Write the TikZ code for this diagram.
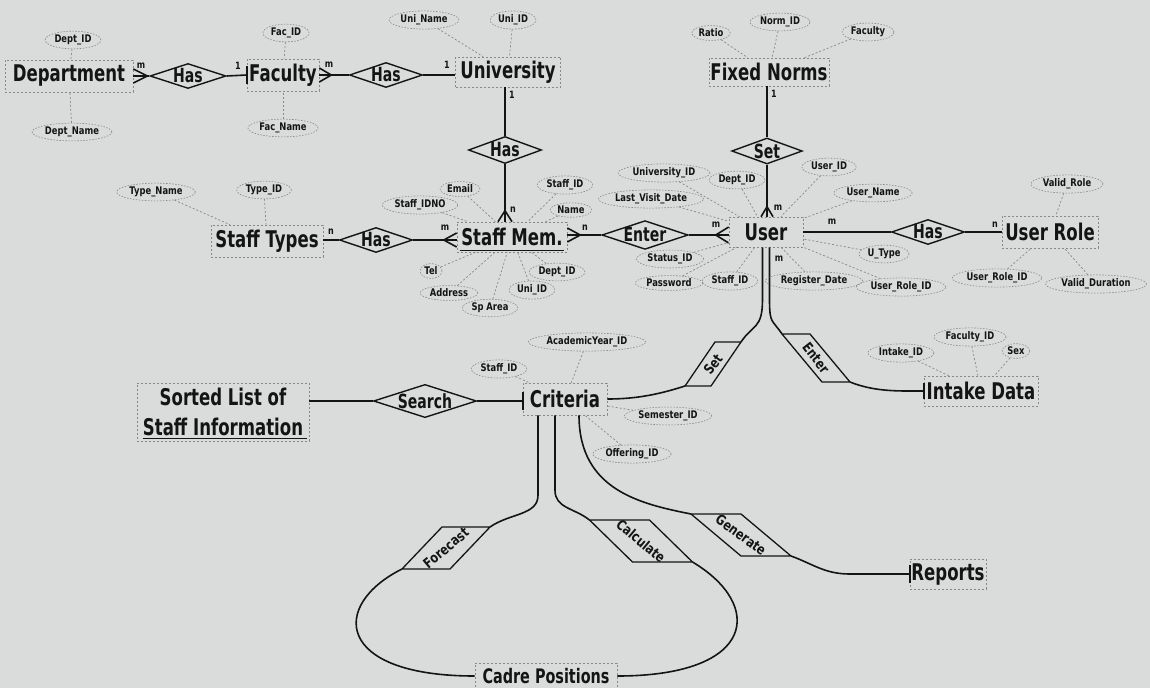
\documentclass[tikz,border=0pt]{standalone}
\usepackage{fontspec}
\usetikzlibrary{shapes.geometric,calc}
\newfontfamily\condf[FakeStretch=0.8]{DejaVu Sans}
\newfontfamily\condent[FakeStretch=0.72]{DejaVu Sans}
\newcommand\myent{\condent\bfseries\fontsize{23}{25}\selectfont}
\newcommand\mycadre{\condent\bfseries\fontsize{20}{22}\selectfont}
\newcommand\myrel{\condent\bfseries\fontsize{19.5}{21}\selectfont}
\newcommand\myslant{\condf\bfseries\fontsize{14}{16}\selectfont}
\newcommand\myatt{\condf\bfseries\fontsize{10.5}{12}\selectfont}
\newcommand\mycard{\condf\bfseries\fontsize{10}{12}\selectfont}
\definecolor{bgc}{RGB}{218,220,220}
\definecolor{ink}{RGB}{20,20,20}
\definecolor{faint}{RGB}{135,137,137}
% slanted relationship box: name, cx, cy, half width, half height, shift of top edge
\newcommand\slantbox[6]{%
  \coordinate (#1-tl) at ({#2-#4+#6/2},{#3-#5});
  \coordinate (#1-tr) at ({#2+#4+#6/2},{#3-#5});
  \coordinate (#1-br) at ({#2+#4-#6/2},{#3+#5});
  \coordinate (#1-bl) at ({#2-#4-#6/2},{#3+#5});
  \draw[relline] (#1-tl) -- (#1-tr) -- (#1-br) -- (#1-bl) -- cycle;}
\tikzset{
  ent/.style={draw=faint, dash pattern=on 2pt off 2pt, line width=.6pt, font=\myent,
    text=ink, inner sep=0pt, align=center},
  rel/.style={diamond, draw=ink, line width=1.4pt, aspect=3, inner sep=0pt, font=\myrel, text=ink},
  slant/.style={font=\myslant, text=ink, inner sep=0pt},
  relline/.style={draw=ink, line width=1.3pt, line join=round},
  attr/.style={ellipse, draw=faint, dash pattern=on 1.5pt off 1.5pt, line width=.6pt,
    font=\myatt, text=ink, inner sep=1.2pt},
  aline/.style={draw=faint, dash pattern=on 2pt off 2pt, line width=.7pt},
  conn/.style={draw=ink, line width=1.6pt},
  card/.style={font=\mycard, text=ink, inner sep=0pt},
}
\begin{document}
\begin{tikzpicture}[x=1pt,y=-1pt]
\fill[bgc] (0,0) rectangle (1150,688);
\useasboundingbox (0,0) rectangle (1150,688);

% ---------- entities ----------
\node[ent, minimum width=128, minimum height=32] (dept) at (69,76) {Department};
\node[ent, minimum width=72, minimum height=32] (fac) at (283,75) {Faculty};
\node[ent, minimum width=105, minimum height=30] (uni) at (508,72) {University};
\node[ent, minimum width=120, minimum height=28] (fixed) at (769,72) {Fixed Norms};
\node[ent, minimum width=112, minimum height=32] (stype) at (267,241) {Staff Types};
\node[ent, minimum width=110, minimum height=30] (staff) at (512,237) {Staff Mem.};
\node[ent, minimum width=74, minimum height=30] (user) at (766,232) {User};
\node[ent, minimum width=96, minimum height=32] (urole) at (1050,232) {User Role};
\node[ent, minimum width=172, minimum height=58] (sorted) at (223,412) {Sorted List of\\[5pt]Staff Information};
\node[ent, minimum width=84, minimum height=32] (crit) at (565,399) {Criteria};
\node[ent, minimum width=114, minimum height=30] (intake) at (981,391) {Intake Data};
\node[ent, minimum width=76, minimum height=30] (reports) at (948,574) {Reports};
\node[ent, font=\mycadre, minimum width=142, minimum height=26] (cadre) at (546,676) {Cadre Positions};

% underlines
\draw[conn, line width=1.3pt] ($(staff.south west)+(3,-2)$) -- ($(staff.south east)+(-3,-2)$);
\draw[conn, line width=1.3pt] ($(sorted.south west)+(6,-3)$) -- ($(sorted.south east)+(-2,-3)$);

% ---------- relationships ----------
\node[rel, minimum width=76, minimum height=25] (has1) at (188,76) {Has};
\node[rel, minimum width=68, minimum height=25] (has2) at (386,75) {Has};
\node[rel, minimum width=67, minimum height=27] (has3) at (505,150) {Has};
\node[rel, minimum width=70, minimum height=26] (set1) at (767,151) {Set};
\node[rel, minimum width=71, minimum height=25] (has5) at (376,240) {Has};
\node[rel, minimum width=85, minimum height=27] (enter1) at (645,235) {Enter};
\node[rel, minimum width=66, minimum height=25] (has4) at (928,232) {Has};
\node[rel, minimum width=103, minimum height=32] (search) at (425,401) {Search};

\slantbox{set2}{713}{364}{13}{22}{30}
\node[slant, rotate=52] (set2) at (713,364) {Set};
\slantbox{enter2}{816}{358}{14}{24}{-40}
\node[slant, rotate=-52] (enter2) at (816,358) {Enter};
\slantbox{fore}{446}{548}{24}{21}{40}
\node[slant, rotate=40] (fore) at (446,548) {Forecast};
\slantbox{calc}{641}{541}{30}{21}{-43}
\node[slant, rotate=-40] (calc) at (641,541) {Calculate};
\slantbox{gen}{741}{535}{25}{21}{-50}
\node[slant, rotate=-36] (gen) at (741,535) {Generate};

% ---------- connectors ----------
% Department - Faculty
\draw[conn] (dept.east) -- (has1.west);
\draw[conn] ($(dept.east)+(0,-7)$) -- ($(dept.east)+(14,0)$) -- ($(dept.east)+(0,7)$);
\draw[conn] (has1.east) -- (fac.west);
\draw[conn] ($(fac.west)+(0,-9)$) -- ($(fac.west)+(0,9)$);
% Faculty - University
\draw[conn] (fac.east) -- (has2.west);
\draw[conn] ($(fac.east)+(0,-7)$) -- ($(fac.east)+(12,0)$) -- ($(fac.east)+(0,7)$);
\draw[conn] (has2.east) -- (uni.west |- has2.east);
% University - Staff Mem.
\draw[conn] (uni.south -| has3.north) -- (has3.north);
\coordinate (stop) at (has3.south |- staff.north);
\draw[conn] (has3.south) -- (stop);
\draw[conn] ($(stop)+(-7,0)$) -- ($(stop)+(0,-11)$) -- ($(stop)+(7,0)$);
% Fixed Norms - User
\draw[conn] (fixed.south -| set1.north) -- (set1.north);
\coordinate (utop) at (set1.south |- user.north);
\draw[conn] (set1.south) -- (utop);
\draw[conn] ($(utop)+(-6,0)$) -- ($(utop)+(0,-10)$) -- ($(utop)+(6,0)$);
% Staff Types - Staff Mem.
\draw[conn] (stype.east |- has5.west) -- (has5.west);
\draw[conn] (has5.east) -- (staff.west |- has5.east);
\coordinate (sleft) at (staff.west |- has5.east);
\draw[conn] ($(sleft)+(0,-7)$) -- ($(sleft)+(-13,0)$) -- ($(sleft)+(0,7)$);
% Staff Mem. - User
\coordinate (sright) at (staff.east |- enter1.west);
\draw[conn] (sright) -- (enter1.west);
\draw[conn] ($(sright)+(0,-7)$) -- ($(sright)+(13,0)$) -- ($(sright)+(0,7)$);
\coordinate (uleft) at (user.west |- enter1.east);
\draw[conn] (enter1.east) -- (uleft);
\draw[conn] ($(uleft)+(0,-8)$) -- ($(uleft)+(-13,0)$) -- ($(uleft)+(0,8)$);
% User - User Role
\draw[conn] (user.east) -- (has4.west);
\draw[conn] (has4.east) -- (urole.west);
% User - Criteria and User - Intake Data
\draw[conn] ($(user.south)+(-3.5,0)$) -- ++(0,52) .. controls +(0,30) and +(12,-18) .. (set2-tr);
\draw[conn] (set2-bl) .. controls +(-25,8) and +(30,0) .. (crit.east);
\draw[conn] ($(user.south)+(3.5,0)$) -- ++(0,52) .. controls +(0,25) and +(-10,-15) .. (enter2-tl);
\draw[conn] (enter2-br) .. controls +(25,10) and +(-25,0) .. (intake.west);
\draw[conn] ($(intake.west)+(0,-8)$) -- ($(intake.west)+(0,8)$);
% Sorted List - Criteria
\draw[conn] (sorted.east |- search.west) -- (search.west);
\coordinate (cleft) at (crit.west |- search.east);
\draw[conn] (search.east) -- (cleft);
\draw[conn] ($(cleft)+(0,-9)$) -- ($(cleft)+(0,9)$);
% Criteria - Cadre Positions
\draw[conn] ($(crit.south)+(-27,0)$) -- ++(0,80) .. controls +(0,20) and +(20,-14) .. (fore-tr);
\draw[conn] (fore-bl) .. controls +(-72,36) and +(-140,0) .. (cadre.west);
\draw[conn] ($(crit.south)+(-10,0)$) -- ++(0,75) .. controls +(0,18) and +(-15,-12) .. (calc-tl);
\draw[conn] (calc-br) .. controls +(72,43) and +(139,0) .. (cadre.east);
% Criteria - Reports
\draw[conn] ($(crit.south)+(14,0)$) .. controls +(0,75) and +(-50,-10) .. (gen-tl);
\draw[conn] (gen-br) .. controls +(22,8) and +(-25,0) .. ($(reports.west)+(-60,0)$) -- (reports.west);
\draw[conn] ($(reports.west)+(0,-9)$) -- ($(reports.west)+(0,9)$);

% ---------- cardinalities ----------
\node[card] at (141,66) {m};
\node[card] at (238,66) {1};
\node[card] at (329,65) {m};
\node[card] at (447,65) {1};
\node[card] at (512,95) {1};
\node[card] at (513,210) {n};
\node[card] at (774,94) {1};
\node[card] at (778,208) {m};
\node[card] at (331,232) {n};
\node[card] at (445,228) {m};
\node[card] at (585,228) {n};
\node[card] at (716,225) {m};
\node[card] at (832,222) {m};
\node[card] at (995,225) {n};
\node[card] at (779,259) {m};

% ---------- attributes ----------
\node[attr] (a1) at (73,40) {Dept\_ID};
\node[attr] (a2) at (72,132) {Dept\_Name};
\foreach \a in {a1,a2} \draw[aline] (\a) -- (dept);
\node[attr] (b1) at (286,33) {Fac\_ID};
\node[attr] (b2) at (283,128) {Fac\_Name};
\foreach \a in {b1,b2} \draw[aline] (\a) -- (fac);
\node[attr] (c1) at (424,20) {Uni\_Name};
\node[attr] (c2) at (513,20) {Uni\_ID};
\foreach \a in {c1,c2} \draw[aline] (\a) -- (uni);
\node[attr] (d1) at (711,33) {Ratio};
\node[attr] (d2) at (780,22) {Norm\_ID};
\node[attr] (d3) at (868,32) {Faculty};
\foreach \a in {d1,d2,d3} \draw[aline] (\a) -- (fixed);
\node[attr] (e1) at (156,192) {Type\_Name};
\node[attr] (e2) at (264,190) {Type\_ID};
\foreach \a in {e1,e2} \draw[aline] (\a) -- (stype);
\node[attr] (f1) at (460,189) {Email};
\node[attr] (f2) at (565,185) {Staff\_ID};
\node[attr] (f3) at (420,205) {Staff\_IDNO};
\node[attr] (f4) at (571,210) {Name};
\node[attr] (f5) at (431,271) {Tel};
\node[attr] (f6) at (449,293) {Address};
\node[attr] (f7) at (490,308) {Sp Area};
\node[attr] (f8) at (532,290) {Uni\_ID};
\node[attr] (f9) at (557,272) {Dept\_ID};
\foreach \a in {f1,f2,f3,f4,f5,f6,f7,f8,f9} \draw[aline] (\a) -- (staff);
\node[attr] (g1) at (664,173) {University\_ID};
\node[attr] (g2) at (737,180) {Dept\_ID};
\node[attr] (g3) at (829,167) {User\_ID};
\node[attr] (g4) at (873,193) {User\_Name};
\node[attr] (g5) at (651,199) {Last\_Visit\_Date};
\node[attr] (g6) at (670,259) {Status\_ID};
\node[attr] (g7) at (669,283) {Password};
\node[attr] (g8) at (730,281) {Staff\_ID};
\node[attr] (g9) at (814,281) {Register\_Date};
\node[attr] (g10) at (884,254) {U\_Type};
\node[attr] (g11) at (901,287) {User\_Role\_ID};
\foreach \a in {g1,g2,g3,g4,g5,g6,g7,g8,g9,g10,g11} \draw[aline] (\a) -- (user);
\node[attr] (h1) at (1067,184) {Valid\_Role};
\node[attr] (h2) at (997,278) {User\_Role\_ID};
\node[attr] (h3) at (1096,284) {Valid\_Duration};
\foreach \a in {h1,h2,h3} \draw[aline] (\a) -- (urole);
\node[attr] (k1) at (587,342) {AcademicYear\_ID};
\node[attr] (k2) at (499,369) {Staff\_ID};
\node[attr] (k3) at (668,416) {Semester\_ID};
\node[attr] (k4) at (632,454) {Offering\_ID};
\foreach \a in {k1,k2,k3,k4} \draw[aline] (\a) -- (crit);
\node[attr] (m1) at (901,353) {Intake\_ID};
\node[attr] (m2) at (970,337) {Faculty\_ID};
\node[attr] (m3) at (1016,351) {Sex};
\foreach \a in {m1,m2,m3} \draw[aline] (\a) -- (intake);
\end{tikzpicture}
\end{document}
